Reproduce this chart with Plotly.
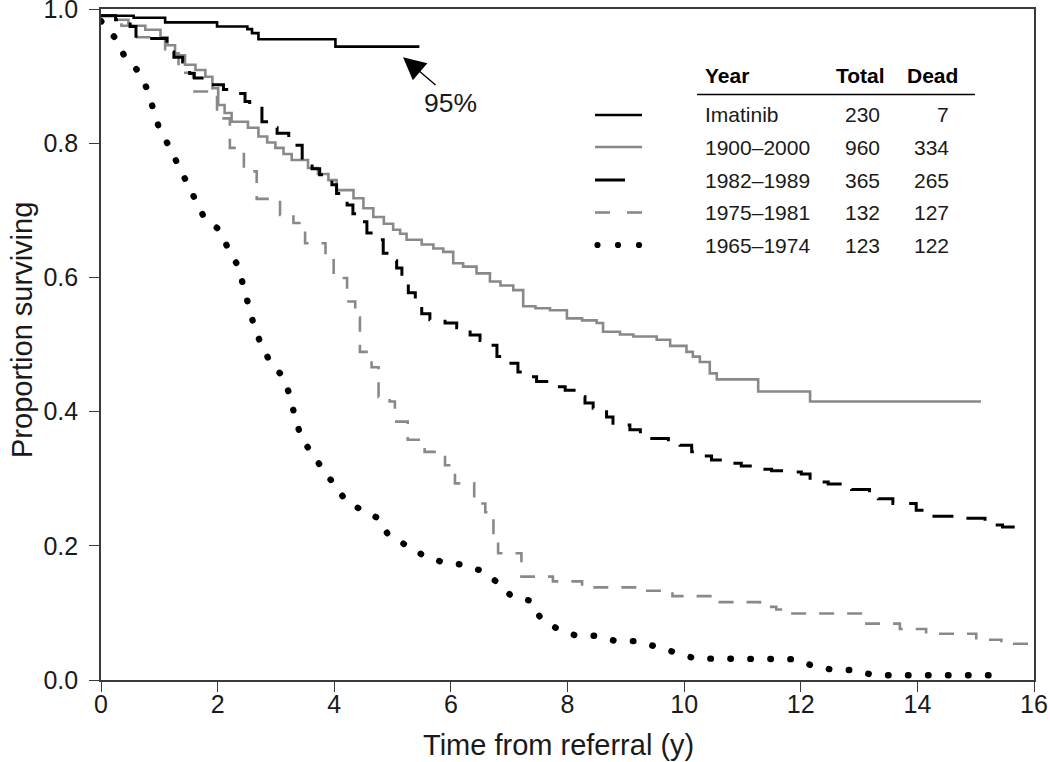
import plotly.graph_objects as go

# ---------------- data ----------------
years = ["Imatinib", "1900–2000", "1982–1989", "1975–1981", "1965–1974"]
totals = [230, 960, 365, 132, 123]
deaths = [7, 334, 265, 127, 122]

imatinib_t = [0, 0.56, 1.10, 1.99, 2.51, 2.59, 2.70, 4.02, 5.46]
imatinib_s = [0.990, 0.987, 0.980, 0.974, 0.970, 0.964, 0.955, 0.944, 0.944]

y1900_t = [0, 0.25, 0.47, 0.76, 1.02, 1.14, 1.27, 1.44, 1.62, 1.79,
           1.91, 2.01, 2.12, 2.24, 2.52, 2.70, 2.85, 2.99, 3.13, 3.27,
           3.55, 3.72, 3.90, 4.04, 4.33, 4.50, 4.67, 4.85, 5.01, 5.13,
           5.24, 5.50, 5.70, 5.87, 6.04, 6.21, 6.44, 6.67, 6.85, 7.07,
           7.24, 7.45, 7.70, 7.99, 8.25, 8.50, 8.61, 8.90, 9.13, 9.53,
           9.76, 10.04, 10.15, 10.27, 10.44, 10.56, 11.27, 12.16, 15.09]
y1900_s = [0.990, 0.984, 0.975, 0.969, 0.958, 0.946, 0.931, 0.917, 0.909, 0.899,
           0.882, 0.857, 0.845, 0.832, 0.823, 0.810, 0.801, 0.793, 0.784, 0.775,
           0.763, 0.754, 0.745, 0.730, 0.718, 0.703, 0.690, 0.680, 0.671, 0.665,
           0.656, 0.649, 0.643, 0.638, 0.621, 0.616, 0.606, 0.594, 0.588, 0.581,
           0.557, 0.554, 0.551, 0.539, 0.536, 0.532, 0.519, 0.515, 0.512, 0.507,
           0.498, 0.489, 0.482, 0.474, 0.457, 0.448, 0.430, 0.415, 0.415]

y1982_t = [0, 0.25, 0.50, 0.60, 1.13, 1.25, 1.40, 1.52, 1.60, 1.93,
           2.10, 2.24, 2.47, 2.55, 2.76, 2.90, 3.02, 3.22, 3.45, 3.62,
           3.75, 3.96, 4.04, 4.22, 4.32, 4.41, 4.56, 4.70, 4.84, 4.95,
           5.07, 5.16, 5.27, 5.39, 5.50, 5.64, 5.90, 6.10, 6.33, 6.50,
           6.64, 6.79, 6.96, 7.15, 7.30, 7.47, 7.73, 7.96, 8.16, 8.30,
           8.44, 8.67, 8.78, 9.07, 9.25, 9.39, 9.73, 9.93, 10.13, 10.30,
           10.47, 10.75, 10.98, 11.27, 11.50, 11.73, 12.01, 12.16, 12.47, 12.87,
           13.18, 13.33, 13.58, 13.98, 14.21, 14.78, 15.16, 15.46, 15.75]
y1982_s = [0.990, 0.984, 0.974, 0.956, 0.936, 0.928, 0.921, 0.904, 0.897, 0.887,
           0.880, 0.874, 0.862, 0.852, 0.832, 0.823, 0.815, 0.797, 0.772, 0.762,
           0.753, 0.738, 0.725, 0.708, 0.695, 0.683, 0.666, 0.656, 0.636, 0.625,
           0.614, 0.592, 0.577, 0.556, 0.546, 0.537, 0.532, 0.525, 0.514, 0.506,
           0.499, 0.482, 0.472, 0.459, 0.452, 0.445, 0.437, 0.432, 0.422, 0.413,
           0.405, 0.392, 0.380, 0.373, 0.366, 0.360, 0.355, 0.350, 0.340, 0.334,
           0.328, 0.323, 0.319, 0.314, 0.312, 0.310, 0.307, 0.295, 0.292, 0.284,
           0.282, 0.270, 0.263, 0.253, 0.244, 0.241, 0.231, 0.228, 0.228]

y1975_t = [0, 0.35, 0.62, 1.10, 1.33, 1.58, 1.99, 2.21, 2.45, 2.67,
           3.07, 3.30, 3.50, 3.85, 3.99, 4.22, 4.36, 4.44, 4.64, 4.76,
           4.95, 5.04, 5.26, 5.55, 5.90, 6.07, 6.40, 6.59, 6.73, 6.81,
           7.21, 7.75, 8.25, 9.30, 9.80, 10.56, 11.30, 11.58, 11.70, 13.07,
           13.70, 14.15, 15.01, 15.44, 16.0]
y1975_s = [0.990, 0.975, 0.958, 0.934, 0.905, 0.877, 0.837, 0.793, 0.758, 0.717,
           0.693, 0.681, 0.651, 0.628, 0.599, 0.564, 0.540, 0.489, 0.466, 0.422,
           0.415, 0.385, 0.358, 0.340, 0.320, 0.293, 0.263, 0.250, 0.205, 0.189,
           0.154, 0.147, 0.138, 0.133, 0.125, 0.116, 0.109, 0.105, 0.099, 0.084,
           0.076, 0.069, 0.060, 0.054, 0.054]

y1965_t = [0, 0.25, 0.40, 0.63, 0.79, 0.88, 0.99, 1.15, 1.31, 1.46,
           1.61, 1.77, 2.03, 2.18, 2.35, 2.44, 2.52, 2.62, 2.74, 2.90,
           3.12, 3.24, 3.32, 3.42, 3.60, 3.80, 4.02, 4.21, 4.48, 4.76,
           4.92, 5.22, 5.52, 5.84, 6.18, 6.52, 6.79, 7.04, 7.37, 7.54,
           7.83, 8.15, 8.49, 8.83, 9.17, 9.51, 9.84, 10.19, 11.90, 12.24,
           12.57, 12.92, 13.25, 15.30]
y1965_s = [0.982, 0.956, 0.930, 0.908, 0.881, 0.853, 0.824, 0.798, 0.771, 0.744,
           0.716, 0.689, 0.671, 0.643, 0.617, 0.588, 0.559, 0.529, 0.501, 0.474,
           0.452, 0.424, 0.394, 0.365, 0.339, 0.315, 0.291, 0.266, 0.253, 0.241,
           0.217, 0.201, 0.186, 0.176, 0.172, 0.163, 0.146, 0.125, 0.118, 0.092,
           0.076, 0.066, 0.066, 0.058, 0.058, 0.050, 0.041, 0.032, 0.031, 0.020,
           0.015, 0.015, 0.007, 0.007]

x_ticks = [0, 2, 4, 6, 8, 10, 12, 14, 16]
y_ticks = [0.0, 0.2, 0.4, 0.6, 0.8, 1.0]

x_title = "Time from referral (y)"
y_title = "Proportion surviving"
annot_label = "95%"
annot_tip = (5.18, 0.928)
annot_text_pos = (5.99, 0.860)

# ---------------- style ----------------
FONT = "Liberation Sans, Arial, Helvetica, sans-serif"
BLACK = "#000000"
GRAY = "#898989"
AXIS = "#3a3a3a"
TXT = "#1a1a1a"

W, H = 1050, 762
ML, MR, MT, MB = 101, 16, 9, 82
PX0, PX1, PY0, PY1 = ML, W - MR, H - MB, MT


def px(x):
    return (x - PX0) / (PX1 - PX0)


def py(y):
    return (PY0 - y) / (PY0 - PY1)


fig = go.Figure()
fig.add_trace(go.Scatter(x=y1900_t, y=y1900_s, mode="lines", name=years[1],
                         line=dict(color=GRAY, width=2.6, shape="hv")))
fig.add_trace(go.Scatter(x=y1975_t, y=y1975_s, mode="lines", name=years[3],
                         line=dict(color=GRAY, width=2.6, shape="hv", dash="15px,13px")))
fig.add_trace(go.Scatter(x=y1982_t, y=y1982_s, mode="lines", name=years[2],
                         line=dict(color=BLACK, width=3, shape="hv", dash="21px,15px")))
fig.add_trace(go.Scatter(x=y1965_t, y=y1965_s, mode="lines", name=years[4],
                         line=dict(color=BLACK, width=6.4, shape="linear", dash="0.5px,19.5px")))
fig.add_trace(go.Scatter(x=imatinib_t, y=imatinib_s, mode="lines", name=years[0],
                         line=dict(color=BLACK, width=2.6, shape="hv")))

shapes = []
annotations = []

# axis titles (placed as annotations for exact position)
tf = dict(family=FONT, size=29, color=TXT)
annotations.append(dict(x=px(558), y=py(745), xref="paper", yref="paper", text=x_title,
                        showarrow=False, xanchor="center", yanchor="middle", font=tf))
annotations.append(dict(x=px(22), y=py(330), xref="paper", yref="paper", text=y_title,
                        showarrow=False, xanchor="center", yanchor="middle", font=tf,
                        textangle=-90))

# arrow + label
annotations.append(dict(x=annot_tip[0], y=annot_tip[1], xref="x", yref="y", text="",
                        showarrow=True, ax=34, ay=29, arrowhead=2, arrowsize=3.2,
                        arrowwidth=1.4, arrowcolor=BLACK, standoff=0))
annotations.append(dict(x=annot_text_pos[0], y=annot_text_pos[1], xref="x", yref="y",
                        text=annot_label, showarrow=False,
                        font=dict(family=FONT, size=26.5, color=TXT),
                        xanchor="center", yanchor="middle"))

# legend table
lf = dict(family=FONT, size=21, color=TXT)
hf = dict(family=FONT, size=21, color=BLACK)
hy = 75
annotations.append(dict(x=px(703), y=py(hy), xref="paper", yref="paper", text="<b>Year</b>",
                        showarrow=False, xanchor="left", yanchor="middle", font=hf))
annotations.append(dict(x=px(887), y=py(hy), xref="paper", yref="paper", text="<b>Total</b>",
                        showarrow=False, xanchor="right", yanchor="middle", font=hf))
annotations.append(dict(x=px(960), y=py(hy), xref="paper", yref="paper", text="<b>Dead</b>",
                        showarrow=False, xanchor="right", yanchor="middle", font=hf))
shapes.append(dict(type="line", xref="paper", yref="paper", x0=px(697), x1=px(975),
                   y0=py(94.5), y1=py(94.5), line=dict(color=BLACK, width=1.5)))

row_y = [115, 147, 180, 212.5, 245]
for i, name in enumerate(years):
    yy = py(row_y[i])
    annotations.append(dict(x=px(703), y=yy, xref="paper", yref="paper", text=name,
                            showarrow=False, xanchor="left", yanchor="middle", font=lf))
    annotations.append(dict(x=px(882), y=yy, xref="paper", yref="paper", text=str(totals[i]),
                            showarrow=False, xanchor="right", yanchor="middle", font=lf))
    annotations.append(dict(x=px(951), y=yy, xref="paper", yref="paper", text=str(deaths[i]),
                            showarrow=False, xanchor="right", yanchor="middle", font=lf))

# legend samples
def seg(x0, x1, yv, color, width):
    shapes.append(dict(type="line", xref="paper", yref="paper", x0=px(x0), x1=px(x1),
                       y0=py(yv), y1=py(yv), line=dict(color=color, width=width)))

seg(595, 642, row_y[0], BLACK, 2.6)
seg(595, 642, row_y[1], GRAY, 2.6)
seg(595, 625, row_y[2], BLACK, 3)
seg(595, 610, row_y[3], GRAY, 2.6)
seg(627, 642, row_y[3], GRAY, 2.6)
for cx in (597.5, 618, 639):
    r = 3.1
    shapes.append(dict(type="circle", xref="paper", yref="paper",
                       x0=px(cx - r), x1=px(cx + r), y0=py(row_y[4] + r), y1=py(row_y[4] - r),
                       fillcolor=BLACK, line=dict(width=0)))

fig.update_layout(
    width=W, height=H, autosize=False,
    margin=dict(l=ML, r=MR, t=MT, b=MB),
    paper_bgcolor="white", plot_bgcolor="white",
    showlegend=False,
    font=dict(family=FONT, color=TXT),
    shapes=shapes, annotations=annotations,
)
fig.update_xaxes(range=[0, 16], tickvals=x_ticks, ticktext=[str(v) for v in x_ticks],
                 showgrid=False, zeroline=False, showline=True, linecolor=AXIS, linewidth=1.6,
                 mirror=True, ticks="outside", ticklen=10, tickwidth=1.4, tickcolor=AXIS,
                 tickfont=dict(family=FONT, size=25, color=TXT), ticklabeloverflow="allow",
                 ticklabelstandoff=-9, automargin=False)
fig.update_yaxes(range=[0, 1.0], tickvals=y_ticks, ticktext=[f"{v:.1f}" for v in y_ticks],
                 showgrid=False, zeroline=False, showline=True, linecolor=AXIS, linewidth=1.6,
                 mirror=True, ticks="outside", ticklen=10, tickwidth=1.4, tickcolor=AXIS,
                 tickfont=dict(family=FONT, size=25, color=TXT), ticklabeloverflow="allow",
                 ticklabelstandoff=6, automargin=False)

post = """
document.documentElement.style.margin = '0';
document.documentElement.style.padding = '0';
document.documentElement.style.overflow = 'hidden';
document.body.style.margin = '0';
document.body.style.padding = '0';
document.body.style.overflow = 'hidden';
var gd = document.getElementById('{plot_id}');
function fixCaps(){
  var tr = gd.querySelectorAll('.scatterlayer .trace');
  if (tr.length > 3) {
    tr[3].querySelectorAll('path.js-line').forEach(function(p){ p.style.strokeLinecap = 'round'; });
  }
}
fixCaps();
gd.on('plotly_afterplot', fixCaps);
"""
fig.write_html("out.html", post_script=post, config={"displayModeBar": False})
